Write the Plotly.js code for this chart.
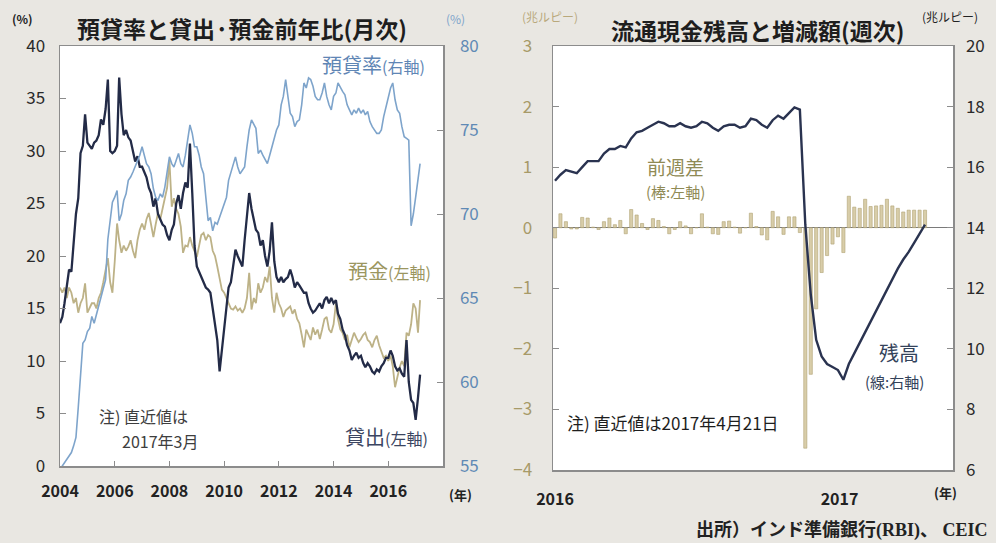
<!DOCTYPE html>
<html>
<head>
<meta charset="utf-8">
<script src="https://cdn.plot.ly/plotly-3.0.1.min.js"></script>
<style>
html,body{margin:0;padding:0;background:#e9e7e2;}
#chart{width:996px;height:543px;}
</style>
</head>
<body>
<div id="chart"></div>
<script>
// ---------- Left panel: monthly data, Jan 2004 - Mar 2017 ----------
const loanGrowth = [
  13.6,14.2,15.5,17.2,18.7,18.5,21.5,24.0,25.5,29.8,30.5,33.5,
  30.8,30.5,30.2,30.8,31.0,31.5,33.0,32.5,34.0,36.8,30.0,29.8,
  30.0,30.5,37.0,33.5,31.5,32.0,31.3,31.0,30.0,29.0,29.5,28.5,
  28.5,28.0,27.5,26.5,26.0,24.7,25.5,24.0,23.5,23.0,22.8,22.0,
  21.5,22.5,23.0,25.0,25.8,24.5,26.0,27.0,26.5,30.7,26.0,21.0,
  19.0,18.5,17.9,17.5,17.0,16.8,16.5,15.0,13.5,12.0,9.0,11.0,
  13.5,15.5,17.0,17.5,19.0,20.6,20.0,19.5,19.0,21.5,24.0,26.0,
  24.5,23.5,22.5,22.2,21.0,21.5,20.0,19.0,20.5,23.2,19.5,18.0,
  17.5,18.0,17.5,17.8,18.0,18.7,18.0,17.0,17.5,17.2,16.8,16.5,
  16.5,15.5,15.0,14.6,14.8,15.2,15.5,15.0,15.8,16.1,15.5,16.0,
  15.5,15.8,14.5,14.0,13.0,12.5,11.5,11.0,10.1,10.5,10.8,10.3,
  10.5,9.8,9.4,9.8,9.5,9.0,8.8,9.2,9.0,9.5,9.8,10.3,
  10.3,11.0,10.5,9.5,9.1,9.3,8.8,8.5,12.0,8.0,6.3,6.0,
  4.4,6.5,8.7
];
const depositGrowth = [
  17.0,16.5,17.0,16.0,17.0,16.5,15.5,16.0,14.6,15.5,16.0,17.4,
  14.6,15.0,15.5,15.5,15.0,16.0,16.5,17.5,18.5,19.8,17.5,16.5,
  19.5,23.1,21.5,20.3,21.0,20.5,20.9,21.5,20.5,19.8,21.5,22.5,
  23.1,22.5,23.5,24.1,23.0,21.8,23.0,24.1,23.5,24.5,25.3,26.5,
  29.1,24.7,25.5,24.5,24.0,22.8,20.3,21.0,20.9,21.8,21.0,20.5,
  19.9,21.0,22.0,22.2,21.5,22.0,21.8,20.5,20.0,19.0,18.0,16.8,
  16.5,16.0,15.5,15.0,14.9,15.2,14.8,15.0,14.6,15.0,16.0,18.4,
  14.9,16.0,15.5,17.4,16.5,17.0,18.0,17.5,19.0,16.0,14.6,16.5,
  15.5,15.0,14.2,14.8,15.0,15.2,14.5,14.9,14.0,13.6,12.5,11.3,
  13.0,12.5,12.0,13.2,12.5,13.0,12.1,13.0,14.0,14.2,13.0,12.7,
  13.5,15.5,14.0,13.0,12.7,12.0,12.5,11.3,12.0,12.7,12.2,11.8,
  12.1,12.5,12.7,12.0,11.8,11.3,12.0,12.4,11.5,11.0,10.3,10.5,
  10.0,10.5,9.5,7.5,8.5,9.4,10.0,9.5,12.7,12.4,13.5,15.5,
  15.0,12.7,15.8
];
const ldRatio = [
  54.8,55.0,55.2,55.4,55.6,55.8,56.2,56.7,58.5,60.5,62.3,62.5,
  63.0,63.2,63.9,63.5,64.0,64.5,65.0,65.5,66.1,68.5,69.5,70.7,
  71.0,71.4,69.6,70.0,70.8,71.2,72.0,72.2,72.5,72.8,73.2,73.5,
  74.0,73.5,73.0,72.8,72.4,71.5,71.0,70.8,71.2,71.0,71.6,72.5,
  73.4,73.0,72.8,73.2,73.6,73.0,72.8,73.5,74.5,75.3,74.8,74.0,
  74.0,73.5,72.8,72.4,71.0,69.6,69.8,69.0,69.5,69.4,69.8,70.2,
  70.5,71.0,72.0,72.5,73.0,73.4,72.8,72.4,72.6,72.8,74.0,75.0,
  75.6,75.3,75.1,73.6,73.8,73.5,73.2,73.0,73.5,74.0,74.5,75.0,
  75.3,76.5,77.0,78.0,77.0,76.0,75.8,75.2,75.5,75.6,76.5,77.8,
  77.5,78.1,78.0,77.6,77.0,76.8,76.8,77.2,77.8,77.0,76.5,76.2,
  77.0,77.2,77.8,77.5,77.3,77.1,76.5,76.2,75.9,76.2,76.0,76.3,
  76.0,76.2,75.9,76.1,75.5,75.2,75.0,74.8,74.8,75.0,75.8,76.4,
  77.0,77.5,77.8,76.8,76.2,76.0,75.2,74.6,74.5,74.4,69.3,70.0,
  71.0,72.0,73.0
];
const leftYearTicks = ['2004','2006','2008','2010','2012','2014','2016'];

// ---------- Right panel: weekly data, 1 Jan 2016 - 21 Apr 2017 (trillion rupees) ----------
const weeklyChange = [
  -0.17,0.23,0.10,-0.02,-0.02,0.17,0.16,0.01,-0.03,0.10,
  0.16,0.05,0.12,-0.10,0.30,0.21,0.07,-0.03,0.15,0.12,
  0.02,-0.10,-0.03,0.10,0.03,-0.10,0.00,0.23,0.01,-0.10,
  -0.11,0.10,0.11,0.01,-0.09,0.00,0.24,0.02,-0.12,-0.20,
  0.27,0.18,-0.11,0.18,0.18,-0.08,-3.64,-2.42,-1.34,-0.74,
  -0.46,-0.27,-0.15,-0.41,0.52,0.34,0.32,0.47,0.35,0.36,
  0.37,0.47,0.36,0.32,0.26,0.29,0.29,0.29,0.29
];
const currencyOutstanding = [
  15.55,15.75,15.9,15.85,15.8,16.0,16.2,16.2,16.2,16.45,
  16.6,16.6,16.7,16.65,16.95,17.15,17.2,17.3,17.4,17.5,
  17.45,17.35,17.35,17.45,17.35,17.3,17.35,17.5,17.45,17.3,
  17.2,17.35,17.4,17.4,17.3,17.35,17.6,17.55,17.4,17.3,
  17.55,17.7,17.6,17.8,17.97,17.9,14.1,11.8,10.3,9.75,
  9.5,9.4,9.3,8.98,9.5,9.85,10.2,10.6,10.95,11.3,
  11.6,11.95,12.3,12.65,12.95,13.2,13.5,13.8,14.1
];
const rightYearTicks = ['2016','2017'];

// ---------- category axes (dates) ----------
const months = loanGrowth.map((_, i) => {
  const y = 2004 + Math.floor(i / 12), m = (i % 12) + 1;
  return y + '-' + String(m).padStart(2, '0') + '-01';
});
const start = Date.UTC(2016, 0, 1);
const weeks = weeklyChange.map((_, k) =>
  new Date(start + k * 7 * 86400000).toISOString().slice(0, 10));

const W = 996, H = 543;
const px = x => x / W, py = y => 1 - y / H;
const FONT = 'Noto Sans CJK JP, Noto Sans, sans-serif';

const traces = [
  {x: months, y: ldRatio, xaxis: 'x', yaxis: 'y2', type: 'scatter', mode: 'lines',
   line: {color: '#7ea4cb', width: 1.6}, hoverinfo: 'skip'},
  {x: months, y: depositGrowth, xaxis: 'x', yaxis: 'y', type: 'scatter', mode: 'lines',
   line: {color: '#bdb287', width: 1.8}, hoverinfo: 'skip'},
  {x: months, y: loanGrowth, xaxis: 'x', yaxis: 'y', type: 'scatter', mode: 'lines',
   line: {color: '#232b47', width: 2.3}, hoverinfo: 'skip'},
  {x: weeks, y: weeklyChange, xaxis: 'x3', yaxis: 'y3', type: 'bar',
   marker: {color: 'rgba(212,200,160,0.9)', line: {color: '#b0a274', width: 0.6}}, hoverinfo: 'skip'},
  {x: weeks, y: currencyOutstanding, xaxis: 'x3', yaxis: 'y4', type: 'scatter', mode: 'lines',
   line: {color: '#2a3350', width: 2.4}, hoverinfo: 'skip'}
];

const frame = {showline: true, linecolor: '#8c8c8c', linewidth: 1.5, showgrid: false, zeroline: false};
const tickNum = {family: FONT, size: 17, color: '#2a2a2a'};

const layout = {
  width: W, height: H,
  margin: {l: 0, r: 0, t: 0, b: 0},
  paper_bgcolor: '#e9e7e2',
  plot_bgcolor: '#ffffff',
  showlegend: false,
  bargap: 0.42,
  font: {family: FONT},
  xaxis: Object.assign({}, frame, {
    domain: [px(60), px(443)], anchor: 'y', type: 'date',
    range: ['2004-01-01', '2018-01-01'],
    tickvals: leftYearTicks.map(y => y + '-01-01'), ticktext: leftYearTicks,
    ticks: 'inside', ticklen: 5, tickcolor: '#8c8c8c', mirror: true,
    tickfont: {family: FONT, size: 16, color: '#222', weight: 'bold'}, ticklabelstandoff: 10
  }),
  yaxis: Object.assign({}, frame, {
    domain: [py(466), py(46)], anchor: 'x', range: [0, 40], dtick: 5,
    ticks: 'inside', ticklen: 6, tickcolor: '#8c8c8c',
    tickfont: tickNum, ticklabelstandoff: 10
  }),
  yaxis2: Object.assign({}, frame, {
    overlaying: 'y', anchor: 'x', side: 'right', range: [55, 80], dtick: 5,
    ticks: 'inside', ticklen: 6, tickcolor: '#8c8c8c',
    tickfont: {family: FONT, size: 17, color: '#5f8ab5'}, ticklabelstandoff: 12
  }),
  xaxis3: Object.assign({}, frame, {
    domain: [px(553), px(953)], anchor: 'y3', type: 'date',
    range: ['2015-12-29 10:00', '2017-05-27'],
    tickvals: rightYearTicks.map(y => y + '-01-01'), ticktext: rightYearTicks,
    ticks: '', mirror: true,
    tickfont: {family: FONT, size: 16, color: '#222', weight: 'bold'}, ticklabelstandoff: 14
  }),
  yaxis3: Object.assign({}, frame, {
    domain: [py(470), py(46)], anchor: 'x3', range: [-4, 3], dtick: 1,
    ticks: 'inside', ticklen: 6, tickcolor: '#8c8c8c',
    zeroline: true, zerolinecolor: '#7a7a7a', zerolinewidth: 1,
    tickfont: {family: FONT, size: 17, color: '#a79a68'}, ticklabelstandoff: 16
  }),
  yaxis4: Object.assign({}, frame, {
    overlaying: 'y3', anchor: 'x3', side: 'right', range: [6, 20], dtick: 2,
    ticks: 'inside', ticklen: 6, tickcolor: '#8c8c8c',
    tickfont: tickNum, ticklabelstandoff: 8
  }),
  annotations: [
    // left panel
    {text: '預貸率と貸出·預金前年比(月次)', x: px(242), y: py(28), font: {size: 23, color: '#1e1e1e', weight: 'bold'}},
    {text: '(%)', x: px(22), y: py(18), font: {size: 12, color: '#222', weight: 'bold'}},
    {text: '(%)', x: px(455), y: py(18), font: {size: 12, color: '#7ea4cb'}},
    {text: '預貸率<span style="font-size:16px">(右軸)</span>', x: px(373), y: py(64), font: {size: 20, color: '#5f86b5'}},
    {text: '預金<span style="font-size:16px">(左軸)</span>', x: px(389), y: py(270), font: {size: 20, color: '#9b965f'}},
    {text: '貸出<span style="font-size:16px">(左軸)</span>', x: px(386), y: py(436), font: {size: 20, color: '#3b4561'}},
    {text: '注) 直近値は', x: px(143), y: py(416), font: {size: 16, color: '#3e3e3e'}},
    {text: '2017年3月', x: px(160), y: py(441), font: {size: 16, color: '#3e3e3e'}},
    {text: '(年)', x: px(460), y: py(494), font: {size: 13, color: '#222', weight: 'bold'}},
    // right panel
    {text: '(兆ルピー)', x: px(550), y: py(16), font: {size: 12, color: '#b9a97c'}},
    {text: '流通現金残高と増減額(週次)', x: px(757), y: py(30), font: {size: 23, color: '#1e1e1e', weight: 'bold'}},
    {text: '(兆ルピー)', x: px(950), y: py(16), font: {size: 12, color: '#222'}},
    {text: '前週差', x: px(675), y: py(166), font: {size: 19, color: '#8f8a55'}},
    {text: '(棒:左軸)', x: px(675), y: py(191), font: {size: 15, color: '#8f8a55'}},
    {text: '残高', x: px(899), y: py(352), font: {size: 20, color: '#33425a'}},
    {text: '(線:右軸)', x: px(894), y: py(381), font: {size: 15, color: '#33425a'}},
    {text: '注) 直近値は2017年4月21日', x: px(673), y: py(422), font: {size: 17, color: '#1e1e1e'}},
    {text: '(年)', x: px(945), y: py(492), font: {size: 13, color: '#222', weight: 'bold'}},
    {text: '出所）インド準備銀行(RBI)、 CEIC', x: px(990), y: py(530), xanchor: 'right',
     font: {family: 'Liberation Serif, Noto Sans CJK JP, serif', size: 18, color: '#222', weight: 'bold'}}
  ].map(a => Object.assign({xref: 'paper', yref: 'paper', showarrow: false, xanchor: 'center', yanchor: 'middle'}, a))
};

Plotly.newPlot('chart', traces, layout, {staticPlot: true, displayModeBar: false});
</script>
</body>
</html>
